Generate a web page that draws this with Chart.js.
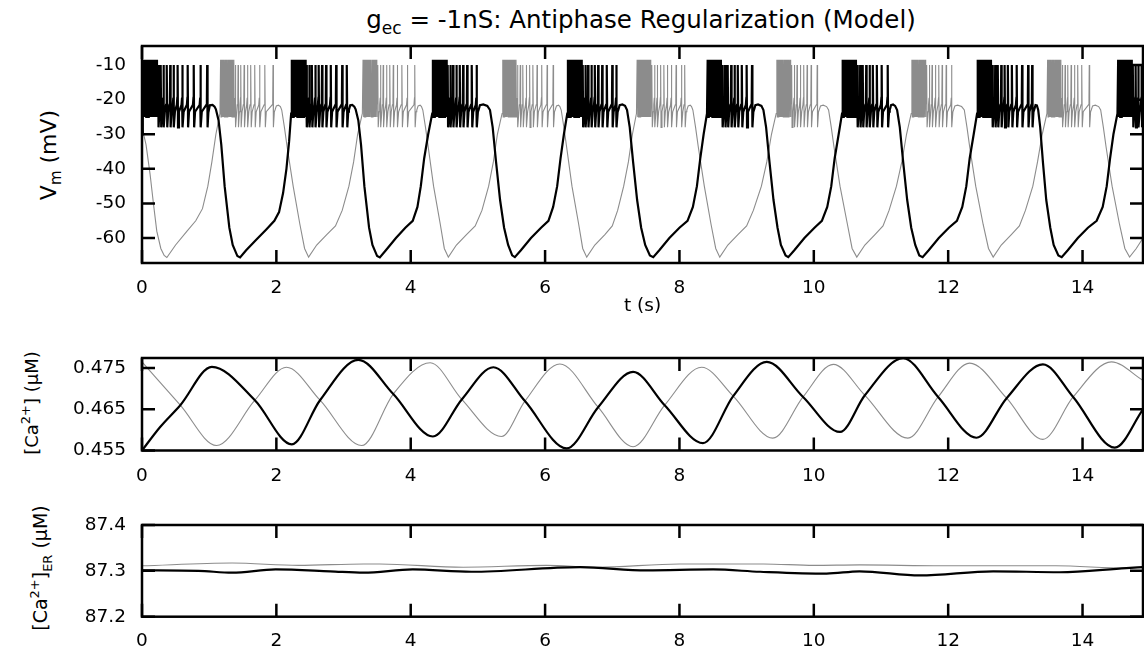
<!DOCTYPE html>
<html>
<head>
<meta charset="utf-8">
<script src="https://cdn.jsdelivr.net/npm/chart.js@4.4.1/dist/chart.umd.min.js"></script>
<style>
  body { margin: 0; background: #fff; }
  #wrap { position: relative; width: 1144px; height: 650px; overflow: hidden; font-family: 'DejaVu Sans', sans-serif; color: #000; }
  canvas { position: absolute; left: 0; }
  .lbl { position: absolute; white-space: nowrap; line-height: 1; }
  .rot { transform: translate(-50%, -50%) rotate(-90deg); }
  .sm { position: relative; }
</style>
</head>
<body>
<div id="wrap">
  <div class="lbl" style="left:641px;top:20px;transform:translate(-50%,-50%);font-size:24.5px">g<span class="sm" style="font-size:17px;top:6px">ec</span> = -1nS: Antiphase Regularization (Model)</div>
  <div class="lbl rot" style="left:49px;top:155px;font-size:22px">V<span class="sm" style="font-size:15px;top:5px">m</span> (mV)</div>
  <div class="lbl rot" style="left:32px;top:403px;font-size:18px">[Ca<span class="sm" style="font-size:13px;top:-8px">2+</span>] (μM)</div>
  <div class="lbl rot" style="left:40px;top:568px;font-size:19px">[Ca<span class="sm" style="font-size:13px;top:-8px">2+</span>]<span class="sm" style="font-size:13px;top:5px">ER</span> (μM)</div>
  <canvas id="c1" width="1144" height="320" style="top:0"></canvas>
  <canvas id="c2" width="1144" height="170" style="top:320px"></canvas>
  <canvas id="c3" width="1144" height="160" style="top:490px"></canvas>
</div>
<script>
// axis ticks
const xTicks = [0, 2, 4, 6, 8, 10, 12, 14];
const vTicks = [-60, -50, -40, -30, -20, -10];
const caTicks = [0.455, 0.465, 0.475];
const erTicks = [87.2, 87.3, 87.4];

// membrane potential, slow wave between bursts [t (s), mV]
const vBlackWave = [
  [0, -30], [0.012, -23],
  [0.99, -23], [1.01, -21.6], [1.05, -21.5], [1.08, -22], [1.1, -22.8], [1.14, -26], [1.18, -33], [1.23, -45], [1.3, -57], [1.35, -62], [1.42, -65.2], [1.46, -65.6], [1.55, -63.5], [1.7, -60.5], [1.85, -57.5], [1.97, -55], [2.04, -52.5], [2.1, -47], [2.15, -40], [2.19, -32], [2.22, -24],
  [3.08, -23], [3.1, -21.6], [3.13, -21.5], [3.16, -22], [3.18, -22.8], [3.22, -26], [3.26, -33], [3.31, -45], [3.38, -57], [3.43, -62], [3.5, -65.2], [3.54, -65.6], [3.63, -63.5], [3.78, -60], [3.92, -57], [4.03, -55], [4.1, -51], [4.15, -45], [4.2, -37], [4.26, -30], [4.32, -24],
  [5.01, -23], [5.03, -21.6], [5.08, -21.4], [5.14, -21.8], [5.18, -23], [5.22, -28], [5.27, -38], [5.33, -49], [5.39, -57], [5.45, -62], [5.51, -65], [5.55, -65.5], [5.64, -63.5], [5.79, -60], [5.94, -57], [6.05, -55], [6.12, -51], [6.18, -45], [6.23, -37], [6.28, -30], [6.33, -24],
  [7.09, -23], [7.11, -21.6], [7.15, -21.4], [7.19, -21.8], [7.22, -23], [7.26, -28], [7.31, -38], [7.37, -49], [7.43, -57], [7.49, -62], [7.56, -65], [7.61, -65.5], [7.7, -63.5], [7.85, -60], [8.0, -57], [8.12, -55], [8.2, -51], [8.26, -45], [8.31, -37], [8.36, -30], [8.41, -24],
  [9.11, -23], [9.13, -21.6], [9.17, -21.4], [9.22, -21.8], [9.25, -23], [9.29, -28], [9.34, -38], [9.4, -49], [9.46, -57], [9.51, -62], [9.58, -65], [9.62, -65.5], [9.71, -63.5], [9.86, -60], [10.01, -57], [10.12, -55], [10.2, -51], [10.26, -45], [10.31, -37], [10.37, -30], [10.42, -24],
  [11.13, -23], [11.15, -21.6], [11.18, -21.4], [11.21, -21.8], [11.24, -23], [11.28, -28], [11.33, -38], [11.39, -49], [11.45, -57], [11.51, -62], [11.57, -65], [11.62, -65.5], [11.71, -63.5], [11.86, -60], [12.01, -57], [12.13, -55], [12.21, -51], [12.27, -45], [12.32, -37], [12.38, -30], [12.43, -24],
  [13.28, -23], [13.3, -21.6], [13.32, -21.7], [13.34, -23], [13.37, -28], [13.41, -38], [13.46, -49], [13.52, -57], [13.57, -62], [13.64, -65], [13.69, -65.5], [13.78, -63.5], [13.93, -60], [14.08, -57], [14.21, -55], [14.3, -51], [14.36, -45], [14.41, -37], [14.46, -30], [14.52, -24]
];
const vGrayWave = [
  [0, -28], [0.06, -33], [0.12, -41.5], [0.17, -50], [0.22, -58], [0.28, -63], [0.33, -65], [0.37, -65.6], [0.5, -62], [0.67, -58], [0.8, -55], [0.9, -51.5], [0.98, -45], [1.04, -38], [1.1, -30], [1.16, -24],
  [1.98, -23], [2.0, -21.8], [2.03, -21.6], [2.06, -22], [2.08, -23], [2.12, -28], [2.16, -33.6], [2.25, -45], [2.35, -56], [2.42, -63], [2.48, -65.5], [2.6, -62], [2.75, -59], [2.88, -56.5], [2.98, -52], [3.08, -45], [3.15, -38], [3.21, -30], [3.28, -24],
  [4.09, -23], [4.11, -21.8], [4.14, -21.6], [4.16, -22], [4.18, -23], [4.22, -28], [4.26, -33.6], [4.34, -45], [4.44, -56], [4.5, -63], [4.56, -65.5], [4.68, -62], [4.83, -59], [4.96, -56.5], [5.06, -52], [5.16, -45], [5.23, -38], [5.29, -30], [5.36, -24],
  [6.15, -23], [6.17, -21.8], [6.2, -21.6], [6.22, -22], [6.24, -23], [6.28, -28], [6.32, -33.6], [6.4, -45], [6.5, -56], [6.56, -63], [6.62, -65.5], [6.74, -62], [6.89, -59], [7.0, -56.5], [7.08, -52], [7.17, -45], [7.24, -38], [7.3, -30], [7.36, -24],
  [8.11, -23], [8.13, -21.8], [8.16, -21.6], [8.18, -22], [8.2, -23], [8.24, -28], [8.28, -33.6], [8.37, -45], [8.47, -56], [8.54, -63], [8.6, -65.5], [8.72, -62], [8.87, -59], [9.0, -56.5], [9.1, -52], [9.22, -45], [9.3, -38], [9.37, -30], [9.44, -24],
  [10.08, -23], [10.1, -21.8], [10.14, -21.6], [10.19, -22], [10.22, -23], [10.26, -28], [10.3, -33.6], [10.39, -45], [10.5, -56], [10.57, -63], [10.64, -65.5], [10.76, -62], [10.91, -59], [11.03, -56.5], [11.12, -52], [11.23, -45], [11.31, -38], [11.38, -30], [11.45, -24],
  [12.08, -23], [12.1, -21.8], [12.14, -21.6], [12.2, -22], [12.24, -23], [12.28, -28], [12.32, -33.6], [12.41, -45], [12.52, -56], [12.6, -63], [12.67, -65.5], [12.79, -62], [12.94, -59], [13.06, -56.5], [13.15, -52], [13.26, -45], [13.33, -38], [13.4, -30], [13.47, -24],
  [14.13, -23], [14.15, -21.8], [14.19, -21.6], [14.24, -22], [14.27, -23], [14.31, -28], [14.35, -33.6], [14.44, -45], [14.55, -56], [14.63, -63], [14.7, -65.5], [14.8, -63], [14.9, -60]
];

// bursts [start, last spike] (s)
const blackBursts = [[0.02, 0.97], [2.23, 3.05], [4.33, 4.98], [6.34, 7.06], [8.42, 9.08], [10.43, 11.1], [12.44, 13.25], [14.53, 15.4]];
const grayBursts = [[1.17, 1.95], [3.29, 4.06], [5.37, 6.12], [7.37, 8.08], [9.45, 10.05], [11.46, 12.05], [13.48, 14.1]];

// spike timing inside a burst, offsets from burst start (s)
const denseOffsets = [0, 0.013, 0.025, 0.038, 0.05, 0.064, 0.077, 0.09, 0.104, 0.118, 0.133, 0.148, 0.164, 0.18, 0.197];
const sparseOffsets = [0.22, 0.26, 0.3, 0.35, 0.4, 0.45, 0.51, 0.58, 0.66, 0.75, 0.85];
// spike levels (mV): dense peak, dense trough, sparse peak, sparse trough, hook, pre-spike
const spikeLevels = [-8.5, -25, -10, -28, -21.5, -19.5];

// cytosolic calcium [t, uM]
const caBlack = [
  [0, 0.455], [0.27, 0.4607], [0.57, 0.466], [1.04, 0.4753], [1.68, 0.4672], [2.23, 0.4565], [2.65, 0.4672], [3.22, 0.477],
  [3.74, 0.4687], [4.33, 0.4584], [4.76, 0.4674], [5.23, 0.4752], [5.7, 0.467], [6.32, 0.4555], [6.79, 0.4655], [7.31, 0.4741],
  [7.78, 0.466], [8.35, 0.4568], [8.8, 0.4682], [9.3, 0.4765], [9.84, 0.468], [10.39, 0.4595], [10.76, 0.4684], [11.33, 0.4774],
  [11.85, 0.468], [12.42, 0.4581], [12.87, 0.4677], [13.41, 0.4759], [13.86, 0.468], [14.48, 0.4557], [14.9, 0.465]
];
const caGray = [
  [0, 0.4765], [0.57, 0.466], [1.11, 0.4562], [1.68, 0.4672], [2.15, 0.4752], [2.65, 0.4672], [3.27, 0.4562], [3.74, 0.4687],
  [4.29, 0.4763], [4.76, 0.4674], [5.35, 0.4584], [5.7, 0.467], [6.22, 0.476], [6.79, 0.4655], [7.31, 0.4559], [7.78, 0.466],
  [8.33, 0.4752], [8.8, 0.4682], [9.39, 0.458], [9.84, 0.468], [10.29, 0.4759], [10.76, 0.4684], [11.4, 0.458], [11.85, 0.468],
  [12.32, 0.4762], [12.87, 0.4677], [13.41, 0.4577], [13.86, 0.468], [14.43, 0.4765], [14.9, 0.472]
];

// ER calcium [t, uM]
const erBlack = [
  [0, 87.301], [0.84, 87.3], [1.34, 87.296], [1.99, 87.303], [2.8, 87.299], [3.3, 87.296], [4.03, 87.303], [4.9, 87.298],
  [6.52, 87.308], [7.51, 87.301], [8.5, 87.303], [9.2, 87.298], [10.19, 87.294], [10.68, 87.299], [11.58, 87.29],
  [12.67, 87.299], [13.66, 87.297], [14.65, 87.306], [14.9, 87.308]
];
const erGray = [
  [0, 87.311], [1.34, 87.317], [2.33, 87.312], [3.3, 87.315], [3.54, 87.315], [4.78, 87.308], [6.02, 87.312], [6.77, 87.308],
  [8.0, 87.315], [9.25, 87.315], [10.0, 87.312], [10.68, 87.313], [11.9, 87.311], [13.6, 87.311], [14.65, 87.306], [14.9, 87.308]
];

function pairs(arr) {
  return arr.map(([t, v]) => ({x: t, y: v}));
}

function buildTrace(wave, bursts) {
  const [dPeak, dTrough, sPeak, sTrough, hook, pre] = spikeLevels;
  const pts = pairs(wave);
  for (const [s, e] of bursts) {
    for (const d of denseOffsets) {
      pts.push({x: s + d, y: dPeak}, {x: s + d + 0.006, y: dTrough});
    }
    const spikes = sparseOffsets.map(d => s + d).filter(t => t < e - 0.04);
    spikes.push(e);
    for (const t of spikes) {
      pts.push({x: t - 0.012, y: hook}, {x: t - 0.004, y: pre}, {x: t, y: sPeak},
               {x: t + 0.006, y: sTrough}, {x: t + 0.02, y: -23.5});
    }
  }
  return pts.sort((a, b) => a.x - b.x);
}

const frame = {
  id: 'frame',
  afterDraw(chart) {
    const {ctx, chartArea: a, scales: {x, y}} = chart;
    const len = 13;
    ctx.save();
    ctx.strokeStyle = '#000';
    ctx.lineWidth = 2.5;
    ctx.beginPath();
    for (const t of x.ticks) {
      const px = x.getPixelForValue(t.value);
      ctx.moveTo(px, a.top); ctx.lineTo(px, a.top + len);
      ctx.moveTo(px, a.bottom); ctx.lineTo(px, a.bottom - len);
    }
    for (const t of y.ticks) {
      const py = y.getPixelForValue(t.value);
      ctx.moveTo(a.left, py); ctx.lineTo(a.left + len, py);
      ctx.moveTo(a.right, py); ctx.lineTo(a.right - len, py);
    }
    ctx.stroke();
    ctx.strokeRect(a.left, a.top, a.right - a.left, a.bottom - a.top);
    ctx.restore();
  }
};

const font = {family: "'DejaVu Sans', sans-serif", size: 18.5};

function makePanel(id, opts) {
  const datasets = [
    {data: opts.black, borderColor: '#000', borderWidth: 2.2},
    {data: opts.gray, borderColor: '#8c8c8c', borderWidth: 1.1}
  ].map(d => Object.assign(d, {pointRadius: 0, tension: 0, cubicInterpolationMode: opts.mode}));
  return new Chart(document.getElementById(id), {
    type: 'line',
    data: {datasets},
    plugins: [frame],
    options: {
      responsive: false,
      animation: false,
      devicePixelRatio: 1,
      parsing: false,
      layout: {padding: {top: opts.top, right: 1, left: 0, bottom: 0}},
      plugins: {legend: {display: false}, tooltip: {enabled: false}},
      scales: {
        x: {
          type: 'linear', min: 0, max: 14.9,
          grid: {display: false, drawTicks: false},
          border: {display: false},
          afterBuildTicks: s => { s.ticks = xTicks.map(v => ({value: v})); },
          afterFit: s => { s.height = opts.xh; },
          ticks: {color: '#000', font, padding: opts.xpad, maxRotation: 0, autoSkip: false},
          title: opts.xtitle ? {display: true, text: opts.xtitle, color: '#000', font, padding: {top: 0, bottom: 3}} : {display: false}
        },
        y: {
          type: 'linear', min: opts.ymin, max: opts.ymax,
          grid: {display: false, drawTicks: false},
          border: {display: false},
          afterBuildTicks: s => { s.ticks = opts.yticks.map(v => ({value: v})); },
          afterFit: s => { s.width = 142; },
          ticks: {color: '#000', font, padding: 16, callback: v => opts.fmt(v)}
        }
      }
    }
  });
}

makePanel('c1', {
  black: buildTrace(vBlackWave, blackBursts), gray: buildTrace(vGrayWave, grayBursts),
  mode: 'default', top: 46, xh: 57, xpad: 14, xtitle: 't (s)',
  ymin: -67.2, ymax: -4.5, yticks: vTicks, fmt: v => String(v)
});
makePanel('c2', {
  black: pairs(caBlack), gray: pairs(caGray),
  mode: 'monotone', top: 38, xh: 39.5, xpad: 15,
  ymin: 0.455, ymax: 0.47745, yticks: caTicks, fmt: v => v.toFixed(3)
});
makePanel('c3', {
  black: pairs(erBlack), gray: pairs(erGray),
  mode: 'monotone', top: 35, xh: 33.3, xpad: 13,
  ymin: 87.2, ymax: 87.4, yticks: erTicks, fmt: v => v.toFixed(1)
});
</script>
</body>
</html>
